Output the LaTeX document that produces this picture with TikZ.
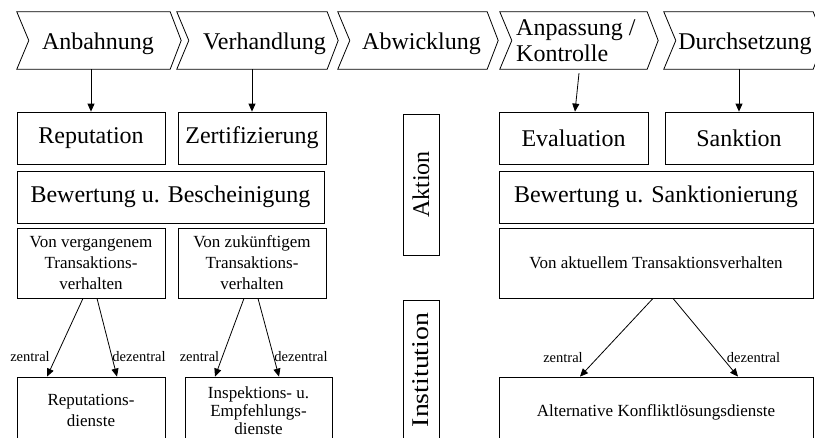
\documentclass[tikz,border=0pt]{standalone}
\usepackage{fontspec}
\setmainfont{Liberation Serif}
\usetikzlibrary{calc,arrows.meta}
\newcommand{\bigf}{\fontsize{24}{26}\selectfont}
\newcommand{\midf}{\fontsize{17}{21}\selectfont}
\newcommand{\smlf}{\fontsize{14.5}{17}\selectfont}
\newcommand{\chevshape}[1]{\draw[ln] (#1.north west) -- (#1.north east) -- ($(#1.east)+(11,0)$) -- (#1.south east) -- (#1.south west) -- ($(#1.west)+(12,0)$) -- cycle;}
\begin{document}
\begin{tikzpicture}[x=1pt,y=-1pt,
  ln/.style={line width=0.8pt},
  chevbody/.style={draw=none,inner sep=0pt,minimum height=57pt},
  ctext/.style={font=\bigf,inner sep=0pt,anchor=base},
  box/.style={draw,line width=0.8pt,inner sep=2pt,align=center},
  bigbox/.style={box,font=\bigf,minimum height=52pt},
  midbox/.style={box,font=\midf},
  lab/.style={font=\smlf,inner sep=0pt,anchor=base},
  arr/.style={line width=0.8pt,-{Triangle[length=8pt,width=7pt]}}]
\clip (0,0) rectangle (815,437);
\fill[white] (0,0) rectangle (815,437);
% chevrons
\node[chevbody,minimum width=153pt] (c1) at (93.5,40.5) {};
\node[chevbody,minimum width=150pt] (c2) at (252,40.5) {};
\node[chevbody,minimum width=149pt] (c3) at (412.5,40.5) {};
\node[chevbody,minimum width=147pt] (c4) at (573.5,40.5) {};
\node[chevbody,minimum width=149pt] (c5) at (738.5,40.5) {};
\chevshape{c1}\chevshape{c2}\chevshape{c3}\chevshape{c4}\chevshape{c5}
\node[ctext] (t1) at (98,49) {Anbahnung};
\node[ctext] (t2) at (264.5,49) {Verhandlung};
\node[ctext] (t3) at (421.5,49) {Abwicklung};
\node[font=\bigf,inner sep=0pt,anchor=west,align=left] (t4) at (516,40.5) {Anpassung /\\Kontrolle};
\node[ctext] (t5) at (745,49) {Durchsetzung};
% left boxes
\node[bigbox,minimum width=148pt] (rep) at (91,138) {Reputation};
\node[bigbox,minimum width=148pt] (zert) at (252,138) {Zertifizierung};
\node[bigbox,minimum width=307pt] (bb) at (170.5,197) {Bewertung u. Bescheinigung};
\node[midbox,minimum width=148pt,minimum height=70pt] (vv) at (91,263) {Von vergangenem\\Transaktions-\\verhalten};
\node[midbox,minimum width=148pt,minimum height=70pt] (zk) at (252,263) {Von zukünftigem\\Transaktions-\\verhalten};
\node[midbox,minimum width=148pt,minimum height=66pt] (rd) at (91,410) {Reputations-\\dienste};
\node[midbox,minimum width=147pt,minimum height=68pt,font=\fontsize{17}{18}\selectfont] (ie) at (258.5,411) {Inspektions- u.\\Empfehlungs-\\dienste};
% middle
\node[box,rotate=90,font=\bigf,minimum width=141pt,minimum height=36pt] (akn) at (421,184.5) {Aktion};
\node[box,rotate=90,font=\bigf,minimum width=140pt,minimum height=36pt] (ins) at (421,370) {\scalebox{1.16}[1]{Institution}};
% right boxes
\node[bigbox,minimum width=149pt] (eval) at (573.5,138) {Evaluation};
\node[bigbox,minimum width=148pt] (sank) at (739,138) {Sanktion};
\node[bigbox,minimum width=314pt] (bs) at (656,197) {Bewertung u. Sanktionierung};
\node[midbox,minimum width=314pt,minimum height=70pt] (akt) at (656,263) {Von aktuellem Transaktionsverhalten};
\node[midbox,minimum width=314pt,minimum height=70pt] (alt) at (656,412) {Alternative Konfliktlösungsdienste};
% arrows from chevrons
\draw[arr] (c1.south -| rep.north) -- (rep.north);
\draw[arr] (c2.south -| zert.north) -- (zert.north);
\draw[arr] ($(c4.south -| eval.north)+(5.5,4)$) -- ($(eval.north)+(1.5,0)$);
\draw[arr] (c5.south -| sank.north) -- (sank.north);
% lower arrows
\draw[arr] ($(vv.south)+(-8,0)$) -- ($(rd.north)+(-44,0)$);
\draw[arr] ($(vv.south)+(6,0)$) -- ($(rd.north)+(26,0)$);
\draw[arr] ($(zk.south)+(-8,0)$) -- ($(ie.north)+(-43.5,0)$);
\draw[arr] ($(zk.south)+(6,0)$) -- ($(ie.north)+(20.5,0)$);
\draw[arr] ($(akt.south)+(-3,0)$) -- ($(alt.north)+(-76,0)$);
\draw[arr] ($(akt.south)+(17,0)$) -- ($(alt.north)+(82,0)$);
% labels
\node[lab] (z1) at (30,361) {zentral};
\node[lab] (d1) at (139,361) {dezentral};
\node[lab] (z2) at (199.5,361) {zentral};
\node[lab] (d2) at (301,361) {dezentral};
\node[lab] (z3) at (563,362) {zentral};
\node[lab] (d3) at (753.5,362) {dezentral};
\end{tikzpicture}
\end{document}
